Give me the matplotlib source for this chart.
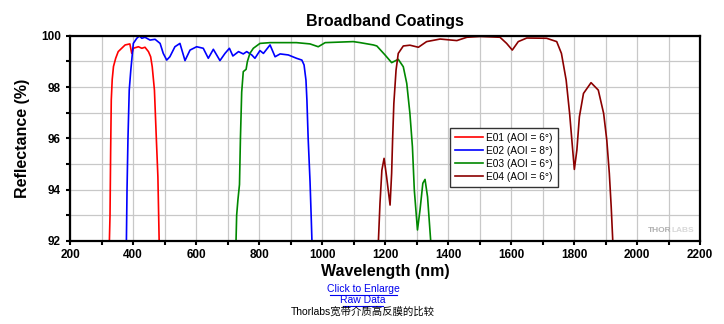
import matplotlib
matplotlib.use('Agg')
import matplotlib.pyplot as plt
from matplotlib.ticker import MultipleLocator

plt.rcParams['font.family'] = ['Liberation Sans', 'Noto Sans CJK SC', 'DejaVu Sans']

# reflectance curves, wavelength (nm) and reflectance (%)
e01_wl = [325, 327, 329, 331, 334, 338, 345, 353, 364, 375, 390, 396, 401, 417, 428,
          438, 449, 456, 461, 465, 468, 474, 479, 483]
e01_r = [92.0, 93.0, 95.5, 97.5, 98.3, 98.8, 99.12, 99.38, 99.51, 99.64, 99.68, 99.31,
         99.51, 99.57, 99.51, 99.55, 99.38, 99.18, 98.79, 98.27, 97.88, 96.0, 94.5, 92.0]

e02_wl = [379, 381, 384, 388, 393, 398, 401, 412, 420, 428, 438, 454, 470, 486, 496, 507,
          517, 533, 549, 565, 581, 602, 623, 639, 655, 676, 692, 706, 717, 735, 750, 761,
          777, 787, 803, 814, 835, 851, 867, 893, 919, 936, 943, 949, 952, 956, 962, 966, 968]
e02_r = [92.0, 94.0, 96.0, 97.88, 98.66, 99.31, 99.7, 99.9, 99.99, 99.9, 99.94, 99.83,
         99.86, 99.7, 99.31, 99.05, 99.18, 99.57, 99.7, 99.03, 99.44, 99.57, 99.51, 99.12,
         99.47, 99.03, 99.31, 99.51, 99.21, 99.38, 99.29, 99.38, 99.25, 99.12, 99.42, 99.31,
         99.64, 99.18, 99.29, 99.25, 99.12, 99.05, 98.86, 98.27, 97.5, 96.0, 94.3, 92.8, 92.0]

e03_wl = [727, 729, 733, 738, 741, 745, 750, 759, 763, 771, 782, 803, 835, 919, 962, 988,
          1010, 1099, 1121, 1163, 1174, 1200, 1221, 1242, 1258, 1269, 1279, 1287, 1293,
          1303, 1311, 1320, 1327, 1335, 1345]
e03_r = [92.0, 93.0, 93.6, 94.2, 96.0, 97.8, 98.6, 98.69, 98.99, 99.31, 99.51, 99.7, 99.73,
         99.73, 99.68, 99.57, 99.73, 99.77, 99.73, 99.64, 99.6, 99.25, 98.95, 99.08, 98.79,
         98.14, 96.97, 95.67, 93.98, 92.43, 93.2, 94.25, 94.4, 93.72, 92.0]

e04_wl = [1179, 1184, 1190, 1197, 1205, 1216, 1221, 1224, 1228, 1235, 1242, 1258, 1279,
          1306, 1332, 1375, 1428, 1460, 1502, 1565, 1586, 1604, 1623, 1650, 1713, 1745,
          1760, 1775, 1786, 1794, 1801, 1809, 1817, 1830, 1854, 1877, 1894, 1904, 1912,
          1918, 1923]
e04_r = [92.0, 93.47, 94.76, 95.22, 94.5, 93.4, 94.64, 95.93, 97.36, 98.66, 99.31, 99.6,
         99.63, 99.55, 99.77, 99.87, 99.81, 99.94, 99.97, 99.94, 99.7, 99.44, 99.77, 99.91,
         99.9, 99.77, 99.31, 98.27, 96.97, 95.8, 94.79, 95.54, 96.84, 97.75, 98.17, 97.88,
         96.97, 95.93, 94.64, 93.33, 92.0]

labels = ['E01 (AOI = 6°)', 'E02 (AOI = 8°)', 'E03 (AOI = 6°)', 'E04 (AOI = 6°)']
colors = ['#ff0000', '#0000ff', '#008800', '#8b0000']

fig = plt.figure(figsize=(7.24, 3.24), dpi=100)
ax = fig.add_axes([0.0967, 0.2562, 0.8702, 0.6336])

for wl, r, lab, c in zip([e01_wl, e02_wl, e03_wl, e04_wl], [e01_r, e02_r, e03_r, e04_r],
                         labels, colors):
    ax.plot(wl, r, color=c, lw=1.2, label=lab)

ax.set_xlim(200, 2200)
ax.set_ylim(92, 100)
ax.xaxis.set_major_locator(MultipleLocator(200))
ax.xaxis.set_minor_locator(MultipleLocator(100))
ax.yaxis.set_major_locator(MultipleLocator(2))
ax.yaxis.set_minor_locator(MultipleLocator(1))
ax.grid(which='both', color='#c8c8c8', lw=0.9)
ax.set_axisbelow(True)
ax.tick_params(which='both', direction='out', length=3, width=1.5, labelsize=8.5)
ax.tick_params(axis='x', pad=3)
for lbl in ax.get_xticklabels() + ax.get_yticklabels():
    lbl.set_fontweight('bold')
for sp in ax.spines.values():
    sp.set_linewidth(1.6)

ax.set_title('Broadband Coatings', fontsize=11.5, fontweight='bold', pad=7)
ax.set_xlabel('Wavelength (nm)', fontsize=11.5, fontweight='bold', labelpad=2)
ax.set_ylabel('Reflectance (%)', fontsize=11.5, fontweight='bold', labelpad=8)

leg = ax.legend(loc='upper left', bbox_to_anchor=(0.603, 0.552), borderaxespad=0,
                fontsize=7.3, handlelength=2.8, handletextpad=0.3, borderpad=0.5,
                labelspacing=0.3, fancybox=False, framealpha=1, edgecolor='#333333')
leg.get_frame().set_linewidth(1.0)

# watermark
ax.text(0.955, 0.035, 'THOR', transform=ax.transAxes, ha='right', va='bottom',
        fontsize=6, fontweight='bold', color='#b0b0b0')
ax.text(0.955, 0.035, 'LABS', transform=ax.transAxes, ha='left', va='bottom',
        fontsize=6, fontweight='bold', color='#d8d8d8')

fig.text(0.5015, 0.108, 'Click to Enlarge', ha='center', va='center', fontsize=7.5,
         color='#0000ee')
fig.text(0.5015, 0.073, 'Raw Data', ha='center', va='center', fontsize=7.5, color='#0000ee')
fig.add_artist(plt.Line2D([0.456, 0.548], [0.090, 0.090], color='#0000ee', lw=0.8))
fig.add_artist(plt.Line2D([0.474, 0.529], [0.055, 0.055], color='#0000ee', lw=0.8))
fig.text(0.5015, 0.037, 'Thorlabs宽带介质高反膜的比较', ha='center', va='center',
         fontsize=7.5, color='black')

fig.savefig('out.png', dpi=100)
